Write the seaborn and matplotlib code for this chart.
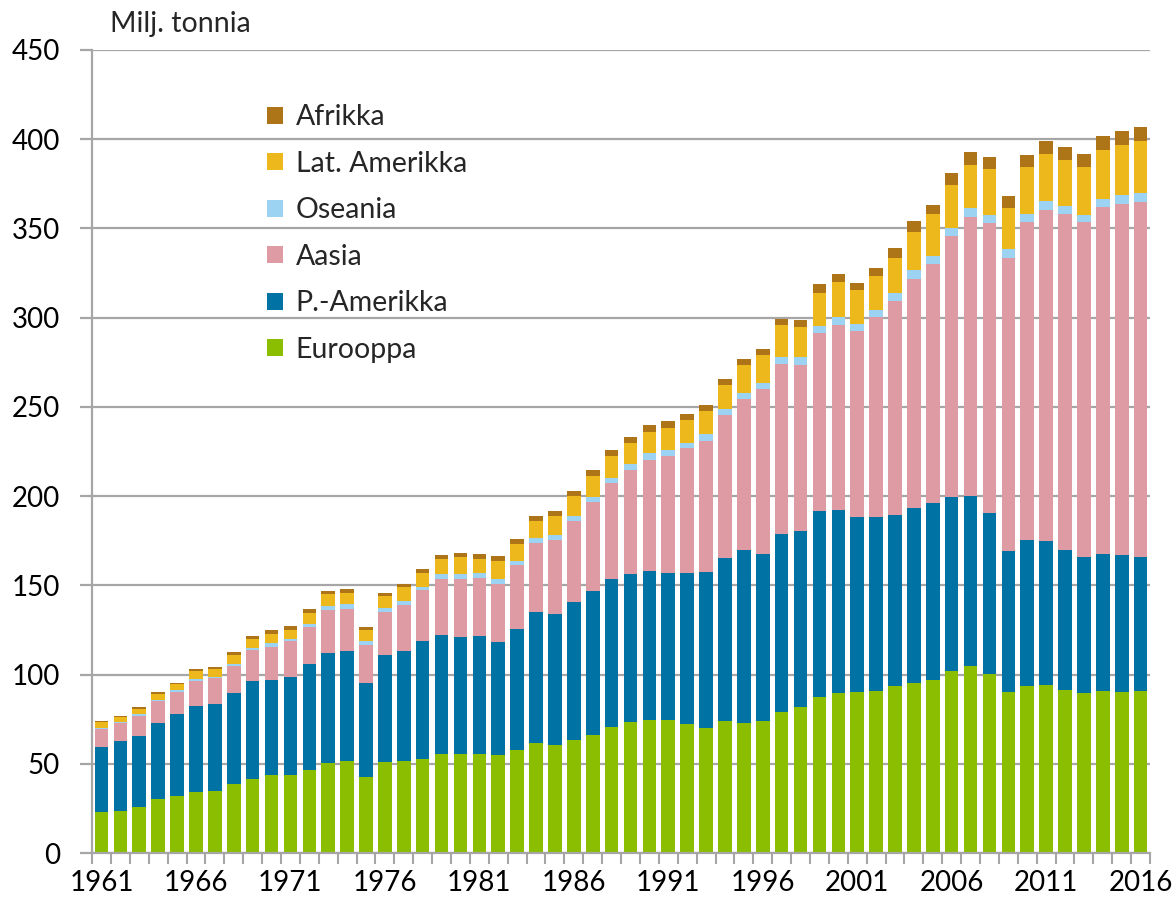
import matplotlib
matplotlib.use("Agg")
import matplotlib.pyplot as plt
from matplotlib.patches import Patch
import numpy as np
import pandas as pd
import seaborn as sns

# vuodet 1961-2016
years = list(range(1961, 2017))

# Milj. tonnia, luettu kuvasta
eurooppa = [22.8, 23.6, 25.8, 30.0, 32.0, 34.3, 35.0, 38.6, 41.6, 43.6,
            43.6, 46.7, 50.5, 51.8, 42.6, 51.2, 51.8, 52.5, 55.5, 55.5,
            55.5, 54.8, 57.7, 61.4, 60.8, 63.5, 66.4, 70.7, 73.7, 74.3,
            74.3, 72.2, 70.1, 74.0, 73.0, 73.8, 79.1, 81.7, 87.6, 89.7,
            90.2, 91.0, 93.4, 95.0, 97.0, 102.1, 104.8, 100.3, 90.2, 93.4,
            94.2, 91.3, 89.7, 91.0, 90.2, 90.7]
p_amerikka = [36.8, 39.1, 39.6, 42.7, 45.7, 48.3, 48.3, 51.3, 54.7, 53.4,
              54.9, 59.1, 61.6, 61.3, 52.5, 59.6, 61.5, 66.4, 66.9, 65.4,
              66.2, 63.3, 67.8, 73.5, 73.2, 77.0, 80.5, 82.8, 82.5, 84.0,
              82.8, 84.9, 87.6, 91.3, 96.6, 93.7, 99.7, 98.5, 104.2, 102.6,
              97.9, 97.1, 96.0, 98.4, 99.0, 97.4, 95.5, 90.2, 78.8, 82.0,
              80.4, 78.3, 76.4, 76.5, 76.7, 75.4]
aasia = [9.7, 10.0, 11.4, 12.3, 12.4, 13.7, 14.6, 15.0, 17.2, 18.7,
         20.2, 20.7, 24.3, 23.5, 21.5, 24.5, 25.6, 28.6, 30.9, 32.4,
         32.3, 32.7, 35.9, 38.8, 41.5, 45.4, 49.8, 53.8, 58.5, 61.8,
         65.3, 69.7, 73.2, 79.9, 84.6, 92.6, 95.3, 93.3, 99.7, 103.7,
         104.2, 112.2, 120.1, 128.3, 134.0, 146.3, 156.3, 162.4, 164.6, 178.3,
         186.0, 188.6, 187.6, 194.7, 196.9, 198.7]
oseania = [0.9, 0.7, 0.9, 1.0, 1.1, 1.1, 1.0, 1.3, 1.5, 1.9,
           1.5, 1.9, 2.1, 2.8, 2.1, 2.1, 2.2, 1.5, 2.8, 2.8,
           2.8, 3.0, 2.1, 2.6, 2.9, 2.9, 2.7, 2.9, 3.3, 4.0,
           3.5, 2.9, 3.7, 3.7, 3.7, 3.4, 3.9, 4.5, 3.7, 4.3,
           4.3, 4.2, 4.5, 5.0, 4.4, 4.2, 4.8, 4.8, 4.8, 4.5,
           4.7, 4.5, 4.0, 4.2, 4.7, 4.8]
lat_amerikka = [3.2, 2.8, 3.0, 3.3, 3.4, 4.7, 4.1, 4.8, 4.9, 5.4,
                4.9, 6.0, 6.4, 6.2, 6.3, 6.5, 7.9, 8.0, 8.8, 9.7,
                8.1, 10.1, 9.5, 9.6, 10.4, 11.2, 11.8, 12.4, 11.9, 11.6,
                12.3, 13.0, 12.9, 13.5, 15.4, 15.3, 17.8, 16.7, 18.8, 19.5,
                19.0, 19.0, 19.6, 21.2, 23.5, 24.3, 24.3, 25.4, 23.2, 26.5,
                26.5, 25.9, 27.0, 27.3, 28.1, 29.6]
afrikka = [0.8, 0.8, 1.1, 1.1, 0.9, 1.3, 1.3, 1.4, 1.6, 1.9,
           1.9, 2.4, 1.8, 2.4, 1.5, 1.9, 1.8, 2.1, 2.0, 2.4,
           2.8, 2.3, 2.9, 3.1, 2.9, 3.1, 3.3, 3.3, 3.3, 3.9,
           3.7, 3.4, 3.7, 3.4, 3.4, 3.5, 3.7, 4.2, 4.8, 4.5,
           4.0, 4.5, 5.3, 6.1, 5.5, 6.7, 6.9, 7.1, 6.4, 6.3,
           7.4, 7.2, 7.1, 7.9, 7.9, 7.4]

sarjat = ["Eurooppa", "P.-Amerikka", "Aasia", "Oseania", "Lat. Amerikka", "Afrikka"]
varit = ["#8BBE00", "#0072A3", "#DF9BA3", "#9DD3F2", "#EDB81C", "#AE7418"]

df = pd.DataFrame({"vuosi": [str(y) for y in years],
                   "Eurooppa": eurooppa, "P.-Amerikka": p_amerikka, "Aasia": aasia,
                   "Oseania": oseania, "Lat. Amerikka": lat_amerikka, "Afrikka": afrikka})
# kumulatiiviset summat pinottuja pylvaita varten
cum = df[sarjat].cumsum(axis=1)
cum["vuosi"] = df["vuosi"]

sns.set_theme(style="white")
plt.rcParams["font.family"] = ["Lato", "DejaVu Sans"]

fig = plt.figure(figsize=(11.74, 9.07), dpi=100)
ax = fig.add_axes([0.0784, 0.0595, 0.9012, 0.8854])

harmaa = "#A6A6A6"
ax.set_axisbelow(True)
ax.yaxis.grid(True, color=harmaa, linewidth=1.6)

# piirretaan ylimmasta alimpaan, jolloin alemmat peittavat ylemmat
for s, c in reversed(list(zip(sarjat, varit))):
    sns.barplot(data=cum, x="vuosi", y=s, color=c, saturation=1, width=0.72,
                errorbar=None, linewidth=0, ax=ax, order=cum["vuosi"])

ax.set_ylim(0, 450)
ax.set_xlim(-0.5, len(years) - 0.5)
ax.set_yticks(range(0, 451, 50))
ax.set_xticks(range(0, len(years), 5))
ax.set_xticklabels([str(y) for y in years[::5]])
ax.set_xticks(np.arange(-0.5, len(years), 1), minor=True)
ax.tick_params(axis="x", which="major", length=0, pad=12, labelsize=20, colors="black")
ax.tick_params(axis="x", which="minor", length=8, width=1.5, color=harmaa, direction="out")
ax.tick_params(axis="y", length=9, width=1.6, color=harmaa, pad=14, labelsize=20, labelcolor="black")
ax.tick_params(axis="both", which="both", bottom=True, left=True)
ax.set_xlabel("")
ax.set_ylabel("")

for k in ["top", "right"]:
    ax.spines[k].set_visible(False)
for k in ["left", "bottom"]:
    ax.spines[k].set_color(harmaa)
    ax.spines[k].set_linewidth(1.6)

fig.text(0.094, 0.974, "Milj. tonnia", fontsize=20.5, va="center", ha="left")

kahvat = [Patch(facecolor=c, edgecolor="none", label=s)
          for s, c in reversed(list(zip(sarjat, varit)))]
ax.legend(handles=kahvat, loc="upper left", bbox_to_anchor=(0.152, 0.950),
          frameon=False, fontsize=20.5, handlelength=0.55, handleheight=0.55,
          handletextpad=0.45, labelspacing=0.72, borderpad=0)

fig.savefig("out.png", dpi=100)
